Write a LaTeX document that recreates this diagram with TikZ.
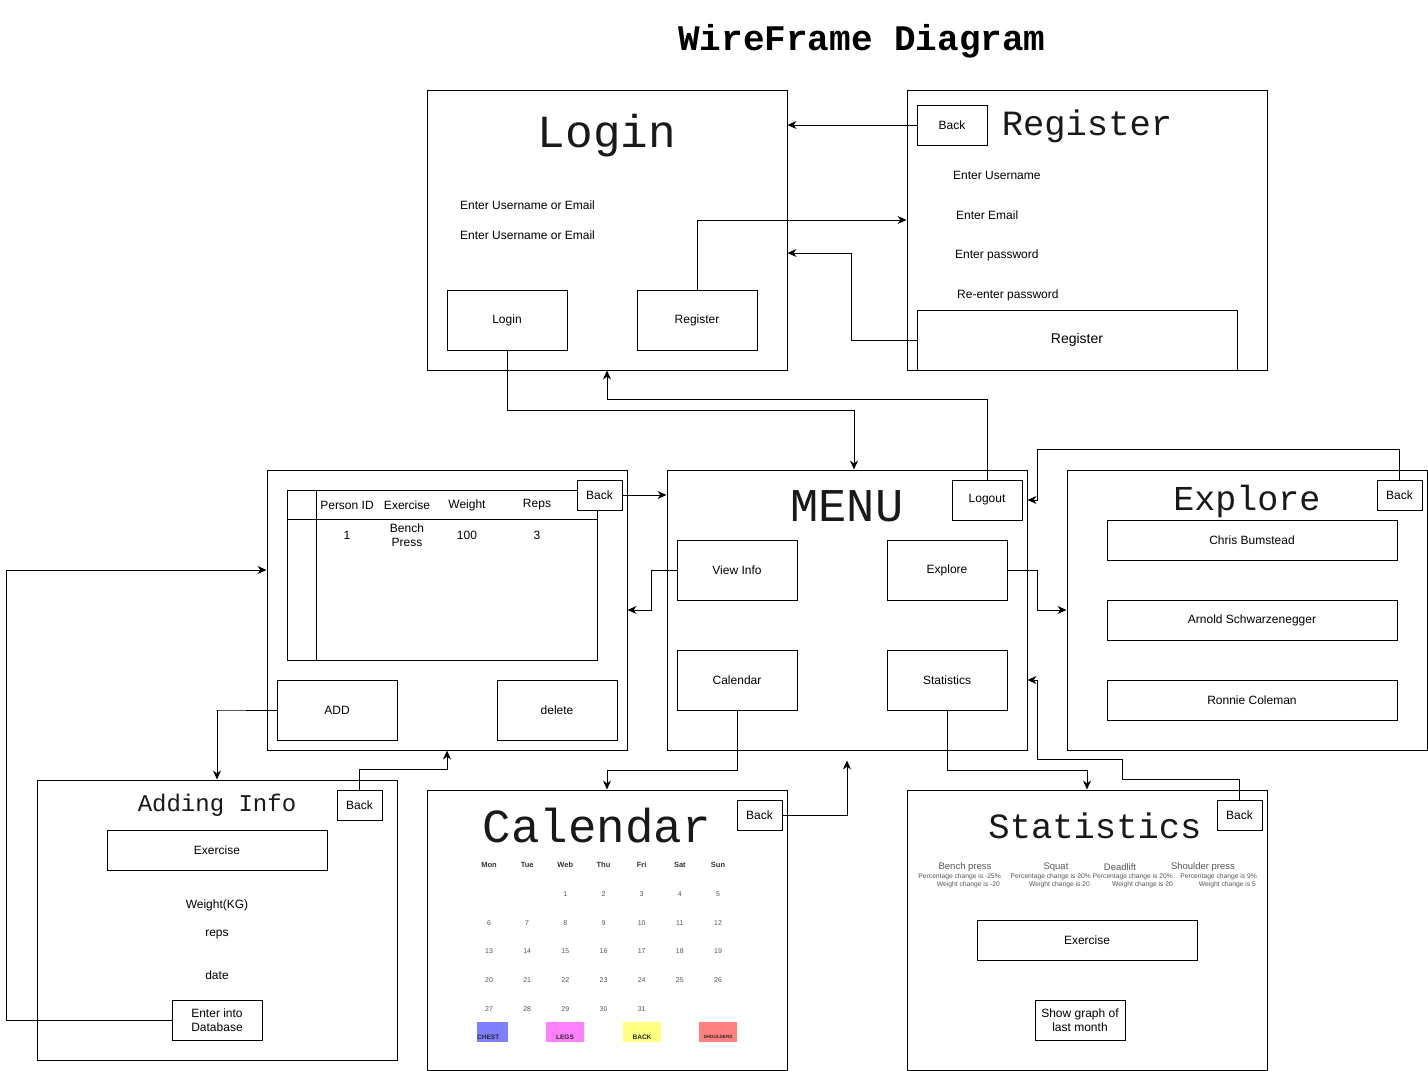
\documentclass[tikz,border=0pt]{standalone}
\usepackage{fontspec}
\setmainfont{Liberation Sans}
\newfontfamily\monof{Liberation Mono}
\usetikzlibrary{arrows.meta}
\definecolor{chestc}{HTML}{7F7FFF}
\definecolor{legsc}{HTML}{FF80FF}
\definecolor{backc}{HTML}{FFFF80}
\definecolor{shoulc}{HTML}{FF8080}
\definecolor{dimtext}{HTML}{555555}
\tikzset{
  frame/.style={draw, line width=1pt, inner sep=0pt},
  btn/.style={draw, line width=1pt, inner sep=0pt, align=center, font=\fontsize{12}{14}\selectfont},
  txt/.style={inner sep=0pt, align=center, font=\fontsize{12}{14}\selectfont},
  ttl/.style={inner sep=0pt, font=\monof\fontsize{#1}{#1}\selectfont, text=black!90},
  arr/.style={draw, line width=1pt, -{Stealth[length=9pt,width=8pt]}},
  ln/.style={draw, line width=1pt},
  dayh/.style={inner sep=0pt, font=\bfseries\fontsize{7.5}{8}\selectfont, text=black!80},
  dnum/.style={inner sep=0pt, font=\fontsize{7}{8}\selectfont, text=dimtext},
  tag/.style={inner sep=0pt, minimum width=#1, minimum height=20pt},
  tagt/.style={inner sep=0pt, font=\bfseries\fontsize{6.5}{7}\selectfont, text=black!85},
  sth/.style={inner sep=0pt, font=\fontsize{9.5}{10}\selectfont, text=dimtext},
  sts/.style={inner sep=0pt, anchor=east, font=\fontsize{6.7}{7}\selectfont, text=dimtext},
}
\begin{document}
\begin{tikzpicture}[x=1pt,y=-1pt]
\useasboundingbox (0,0) rectangle (1428,1071);
\fill[white] (0,0) rectangle (1428,1071);

% Title
\node[inner sep=0pt, font=\monof\bfseries\fontsize{36}{36}\selectfont] (title) at (862,41) {WireFrame Diagram};

% ---------- Login ----------
\node[frame, minimum width=360pt, minimum height=280pt] (login) at (607,230) {};
\node[ttl=46] (logintitle) at (607,136) {Login};
\node[txt, anchor=west] (lu1) at (460,205) {Enter Username or Email};
\node[txt, anchor=west] (lu2) at (460,235) {Enter Username or Email};
\node[btn, minimum width=120pt, minimum height=60pt] (loginbtn) at (507,320) {Login};
\node[btn, minimum width=120pt, minimum height=60pt] (regbtn) at (697,320) {Register};

% ---------- Register ----------
\node[frame, minimum width=360pt, minimum height=280pt] (register) at (1087,230) {};
\node[btn, minimum width=70pt, minimum height=40pt] (regback) at (952,125) {Back};
\node[ttl=35.5] (regtitle) at (1087,126) {Register};
\node[txt, anchor=west] (r1) at (953,175) {Enter Username};
\node[txt, anchor=west] (r2) at (956,215) {Enter Email};
\node[txt, anchor=west] (r3) at (955,255) {Enter password};
\node[txt, anchor=west] (r4) at (957,295) {Re-enter password};
\node[btn, minimum width=320pt, minimum height=60pt, font=\fontsize{14}{16}\selectfont] (regsubmit) at (1077,340) {Register};

% ---------- MENU ----------
\node[frame, minimum width=360pt, minimum height=280pt] (menu) at (847,610) {};
\node[ttl=47] (menutitle) at (847,506) {MENU};
\node[btn, minimum width=70pt, minimum height=40pt] (logout) at (987,500) {Logout};
\node[btn, minimum width=120pt, minimum height=60pt] (viewinfo) at (737,570) {View Info};
\node[btn, minimum width=120pt, minimum height=60pt] (explorebtn) at (947,570) {Explore};
\node[btn, minimum width=120pt, minimum height=60pt] (calbtn) at (737,680) {Calendar};
\node[btn, minimum width=120pt, minimum height=60pt] (statbtn) at (947,680) {Statistics};

% ---------- View Info ----------
\node[frame, minimum width=360pt, minimum height=280pt] (vframe) at (447,610) {};
\node[frame, minimum width=310pt, minimum height=170pt] (table) at (442,575) {};
\draw[ln] ([xshift=30pt]table.north west) -- ([xshift=30pt]table.south west);
\draw[ln] ([yshift=-30pt]table.north west) -- ([yshift=-30pt]table.north east);
\node[txt] (h1) at (347,505) {Person ID};
\node[txt] (h2) at (407,505) {Exercise};
\node[txt] (h3) at (467,505) {Weight};
\node[txt] (h4) at (537,505) {Reps};
\node[txt] (c1) at (347,535) {1};
\node[txt] (c2) at (407,535) {Bench\\Press};
\node[txt] (c3) at (467,535) {100};
\node[txt] (c4) at (537,535) {3};
\node[btn, fill=white, minimum width=45pt, minimum height=30pt] (viewback) at (599.5,495) {Back};
\node[btn, minimum width=120pt, minimum height=60pt] (addbtn) at (337,710) {ADD};
\node[btn, minimum width=120pt, minimum height=60pt] (delbtn) at (557,710) {delete};

% ---------- Explore ----------
\node[frame, minimum width=360pt, minimum height=280pt] (explore) at (1247,610) {};
\node[ttl=35] (exptitle) at (1247,501) {Explore};
\node[btn, minimum width=45pt, minimum height=30pt] (expback) at (1399.5,495) {Back};
\node[btn, minimum width=290pt, minimum height=40pt] (e1) at (1252,540) {Chris Bumstead};
\node[btn, minimum width=290pt, minimum height=40pt] (e2) at (1252,620) {Arnold Schwarzenegger};
\node[btn, minimum width=290pt, minimum height=40pt] (e3) at (1252,700) {Ronnie Coleman};

% ---------- Adding Info ----------
\node[frame, minimum width=360pt, minimum height=280pt] (adding) at (217,920) {};
\node[ttl=24] (addtitle) at (217,805) {Adding Info};
\node[btn, minimum width=45pt, minimum height=30pt] (addback) at (359.5,805) {Back};
\node[btn, minimum width=220pt, minimum height=40pt] (aex) at (217,850) {Exercise};
\node[txt] (aw) at (217,905) {Weight(KG)};
\node[txt] (ar) at (217,935) {reps};
\node[txt] (ad) at (217,975) {date};
\node[btn, minimum width=90pt, minimum height=40pt] (enterdb) at (217,1020) {Enter into\\Database};

% ---------- Calendar ----------
\node[frame, minimum width=360pt, minimum height=280pt] (calendar) at (607,930) {};
\node[ttl=47.5] (caltitle) at (597,826) {Calendar};
\node[btn, minimum width=45pt, minimum height=30pt] (calback) at (759.5,815) {Back};
\foreach \dn [count=\i from 0] in {Mon,Tue,Web,Thu,Fri,Sat,Sun}
  \node[dayh] (dh\i) at ({489+\i*38.17},865) {\dn};
\foreach \d in {1,...,31}{
  \pgfmathtruncatemacro{\col}{mod(\d+1,7)}
  \pgfmathtruncatemacro{\row}{floor((\d+1)/7)}
  \node[dnum] (d\d) at ({489+\col*38.17},{894+\row*28.75}) {\d};
}
\node[tag=31pt, fill=chestc] (chest) at (492.5,1032) {};
\node[tagt, anchor=west] (chestt) at (477,1037) {CHEST};
\node[tag=38pt, fill=legsc] (legs) at (565,1032) {};
\node[tagt] (legst) at (565,1037) {LEGS};
\node[tag=38pt, fill=backc] (back) at (642,1032) {};
\node[tagt] (backt) at (642,1037) {BACK};
\node[tag=38pt, fill=shoulc] (shoul) at (718,1032) {};
\node[tagt, font=\bfseries\fontsize{4.6}{5}\selectfont] (shoult) at (718,1037) {SHOULDERS};

% ---------- Statistics ----------
\node[frame, minimum width=360pt, minimum height=280pt] (statistics) at (1087,930) {};
\node[ttl=35.5] (stattitle) at (1095,826) {Statistics};
\node[btn, minimum width=45pt, minimum height=30pt] (statback) at (1239.5,815) {Back};
\node[sth] (s1) at (965,867) {Bench press};
\node[sts] (s1a) at (1001,877) {Percentage change is -25\%};
\node[sts] (s1b) at (1000,885) {Weight change is -20};
\node[sth] (s2) at (1056,867) {Squat};
\node[sts] (s2a) at (1091,877) {Percentage change is 20\%};
\node[sts] (s2b) at (1090,885) {Weight change is 20};
\node[sth] (s3) at (1120,867) {Deadlift};
\node[sts] (s3a) at (1173,877) {Percentage change is 20\%};
\node[sts] (s3b) at (1173,885) {Weight change is 20};
\node[sth] (s4) at (1203,867) {Shoulder press};
\node[sts] (s4a) at (1257,877) {Percentage change is 9\%};
\node[sts] (s4b) at (1256,885) {Weight change is 5};
\node[btn, minimum width=220pt, minimum height=40pt] (sex) at (1087,940) {Exercise};
\node[btn, minimum width=90pt, minimum height=40pt] (graph) at (1080,1020) {Show graph of\\last month};

% ---------- Connectors ----------
\draw[arr] (regback.west) -- (regback.west -| login.east);
\draw[arr] (regbtn.north) |- ([yshift=10pt]register.west);
\draw[arr] (regsubmit.west) -- ++(-65,0) |- ([yshift=-23pt]login.east);
\draw[arr] (loginbtn.south) -- ++(0,60) -| ([xshift=7pt]menu.north);
\draw[arr] (logout.north) -- ++(0,-80) -| (login.south);
\draw[arr] (viewback.east) -- (viewback.east -| menu.west);
\draw[arr] (viewinfo.west) -- ++(-25,0) |- (vframe.east);
\draw[arr] (addbtn.west) -- ++(-60,0) -| (adding.north);
\draw[arr] (addback.north) -- ++(0,-20) -| (vframe.south);
\draw[arr] (enterdb.west) -- ++(-165,0) |- ([yshift=40pt]vframe.west);
\draw[arr] (explorebtn.east) -- ++(30,0) |- (explore.west);
\draw[arr] (expback.north) -- ++(0,-30) -- ++(-362.5,0) |- ([yshift=110pt]menu.east);
\draw[arr] (statback.north) -- ++(0,-20) -- ++(-117.5,0) -- ++(0,-20) -- ++(-85,0) |- ([yshift=-70pt]menu.east);
\draw[arr] (statbtn.south) -- ++(0,60) -| (statistics.north);
\draw[arr] (calbtn.south) -- ++(0,60) -| (calendar.north);
\draw[arr] (calback.east) -| ([yshift=-10pt]menu.south);
\end{tikzpicture}
\end{document}
